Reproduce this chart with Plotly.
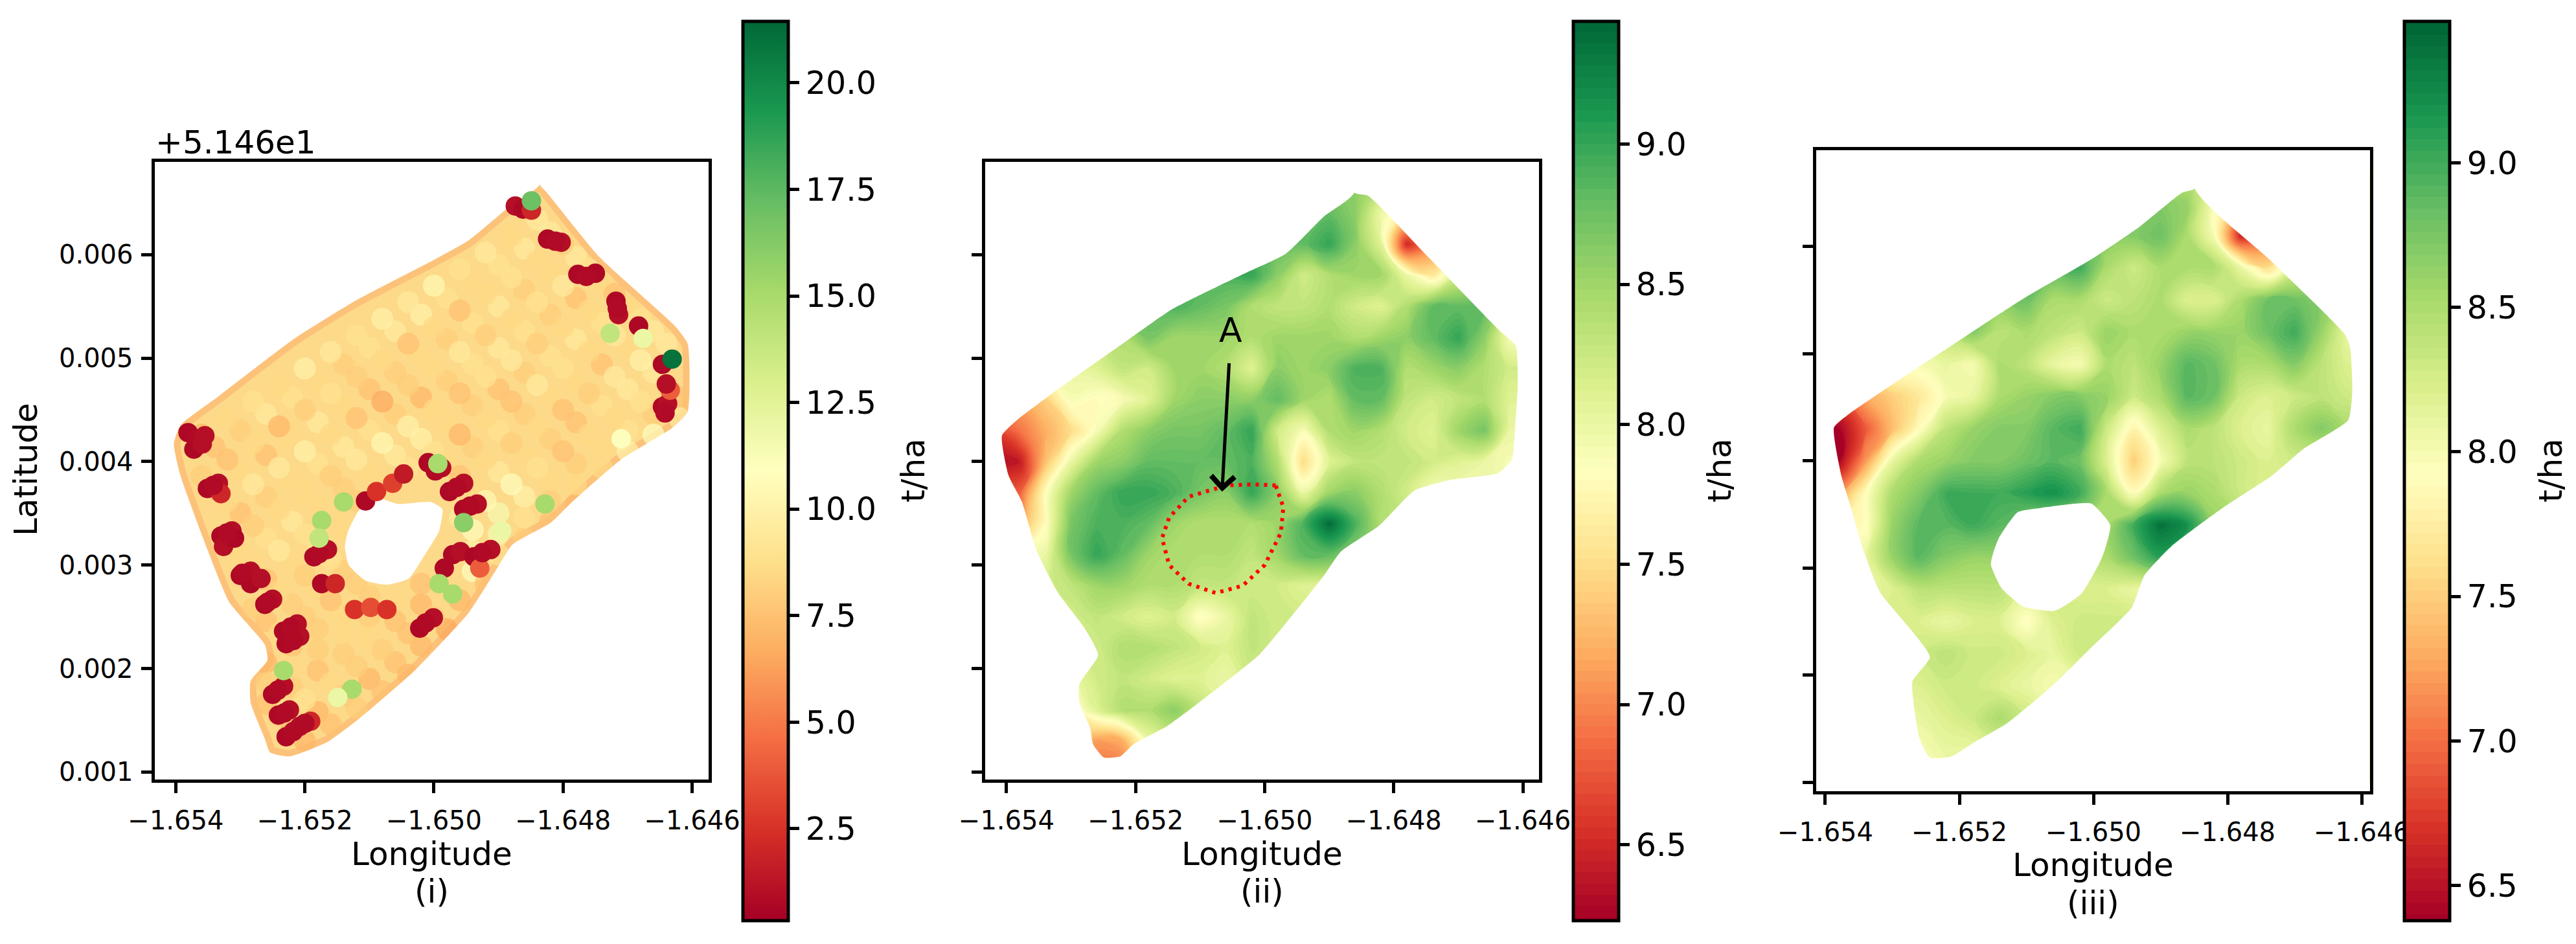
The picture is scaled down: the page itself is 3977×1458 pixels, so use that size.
import plotly.graph_objects as go

W, H = 3977, 1458
_ = None

# grid of the two interpolated maps (latitude is given as offset from 51.46)
grid_lon = [-1.6542, -1.6538, -1.6534, -1.6530, -1.6526, -1.6522, -1.6518, -1.6514, -1.6510, -1.6506, -1.6502,
            -1.6498, -1.6494, -1.6490, -1.6486, -1.6482, -1.6478, -1.6474, -1.6470, -1.6466, -1.6462, -1.6458]
grid_lat = [0.0010, 0.0013, 0.0016, 0.0019, 0.0022, 0.0025, 0.0028, 0.0031, 0.0034, 0.0037,
            0.0040, 0.0043, 0.0046, 0.0049, 0.0052, 0.0055, 0.0058, 0.0061, 0.0064, 0.0067]

yield_ii = [
    [_, _, 7.4, 7.2, 6.9, 6.9, 7.8, 8.1, _, _, _, _, _, _, _, _, _, _, _, _, _, _],
    [_, _, 7.6, 7.4, 7.1, 7.2, 8.0, 8.2, 8.2, 8.2, _, _, _, _, _, _, _, _, _, _, _, _],
    [_, _, 7.7, 7.7, 8.1, 8.4, 8.4, 8.6, 8.3, 8.1, 8.1, _, _, _, _, _, _, _, _, _, _, _],
    [_, _, 8.0, 8.0, 8.2, 8.3, 8.2, 8.1, 8.1, 8.0, 8.2, 8.2, _, _, _, _, _, _, _, _, _, _],
    [_, _, 8.2, 8.2, 8.2, 8.4, 8.4, 8.3, 8.2, 8.1, 8.3, 8.2, 8.2, _, _, _, _, _, _, _, _, _],
    [_, _, 8.2, 8.2, 8.3, 8.2, 8.1, 8.2, 7.8, 8.0, 8.3, 8.2, 8.2, 8.2, _, _, _, _, _, _, _, _],
    [_, 8.2, 8.2, 8.3, 8.5, 8.5, 8.4, 8.4, 8.3, 8.3, 8.2, 8.2, 8.1, 8.1, 8.2, _, _, _, _, _, _, _],
    [7.9, 7.9, 8.0, 8.7, 9.0, 8.8, 8.5, 8.4, 8.4, 8.4, 8.3, 8.5, 8.8, 8.8, 8.6, 8.5, _, _, _, _, _, _],
    [7.2, 7.2, 7.8, 8.7, 8.9, 8.9, 8.8, 8.5, 8.4, 8.4, 8.4, 8.5, 8.9, 9.4, 8.9, 8.4, 8.3, _, _, _, _, _],
    [6.8, 6.8, 7.8, 8.5, 8.8, 9.0, 9.0, 8.9, 8.7, 8.6, 9.0, 8.6, 8.0, 8.5, 8.6, 8.4, 8.2, 7.9, 7.9, _, _, _],
    [6.3, 6.4, 7.3, 8.0, 8.5, 8.6, 8.8, 8.8, 8.8, 8.8, 8.9, 8.4, 7.5, 8.1, 8.3, 8.3, 8.3, 8.2, 8.1, 8.0, 7.9, 7.9],
    [6.6, 6.9, 7.2, 7.5, 7.9, 8.4, 8.6, 8.7, 8.7, 8.8, 9.0, 8.2, 7.9, 8.4, 8.5, 8.4, 8.2, 8.1, 8.5, 8.7, 8.0, 8.0],
    [7.2, 7.2, 7.4, 7.9, 7.8, 7.9, 8.1, 8.5, 8.6, 8.6, 8.6, 8.8, 8.5, 8.4, 8.8, 8.8, 8.3, 8.2, 8.3, 8.4, 8.1, 8.1],
    [_, _, 7.9, 8.0, 8.1, 8.3, 8.2, 8.5, 8.5, 8.4, 8.1, 8.6, 8.5, 8.6, 8.9, 8.9, 8.4, 8.5, 8.6, 8.4, 8.2, 8.2],
    [_, _, _, _, 8.3, 8.4, 8.7, 8.5, 8.5, 8.5, 8.4, 8.5, 8.5, 8.5, 8.4, 8.5, 8.6, 8.8, 9.0, 8.6, 7.9, 7.9],
    [_, _, _, _, _, 8.7, 8.8, 8.9, 8.8, 8.7, 8.4, 8.3, 8.3, 8.4, 8.2, 8.1, 8.4, 8.8, 8.8, 8.8, 8.2, _],
    [_, _, _, _, _, _, _, 8.9, 8.9, 8.9, 9.0, 8.6, 8.2, 8.4, 8.5, 8.5, 8.0, 7.6, 8.2, 8.3, _, _],
    [_, _, _, _, _, _, _, _, _, _, 8.8, 8.8, 8.8, 9.0, 8.6, 8.1, 6.5, 7.0, 7.8, _, _, _],
    [_, _, _, _, _, _, _, _, _, _, _, _, 8.8, 8.8, 8.6, 8.0, 7.6, 7.6, _, _, _, _],
    [_, _, _, _, _, _, _, _, _, _, _, _, _, 8.6, 8.6, 8.4, 8.0, _, _, _, _, _],
]

yield_iii = [
    [_, _, _, 8.0, 8.0, 8.0, 8.1, 8.1, _, _, _, _, _, _, _, _, _, _, _, _, _, _],
    [_, _, _, 8.0, 8.0, 8.1, 8.1, 8.2, 8.2, _, _, _, _, _, _, _, _, _, _, _, _, _],
    [_, _, _, 8.1, 8.1, 8.2, 8.3, 8.5, 8.3, 8.2, _, _, _, _, _, _, _, _, _, _, _, _],
    [_, _, _, 8.2, 8.2, 8.3, 8.3, 8.2, 8.1, 8.0, 8.1, _, _, _, _, _, _, _, _, _, _, _],
    [_, _, 8.3, 8.3, 8.3, 8.4, 8.3, 8.3, 8.2, 8.1, 8.3, 8.3, _, _, _, _, _, _, _, _, _, _],
    [_, _, 8.2, 8.2, 8.2, 8.1, 8.2, 8.2, 7.9, 8.2, 8.3, 8.3, 8.3, _, _, _, _, _, _, _, _, _],
    [_, 8.1, 8.1, 8.2, 8.4, 8.4, 8.4, 8.4, 8.2, 8.3, 8.2, 8.2, 8.1, 8.1, _, _, _, _, _, _, _, _],
    [_, 8.1, 8.1, 8.6, 8.9, 8.7, 8.6, 8.6, 8.5, 8.4, 8.4, 8.5, 8.8, 9.1, 8.8, 8.6, _, _, _, _, _, _],
    [7.8, 7.8, 7.9, 8.6, 8.9, 8.9, 9.0, 8.9, 8.7, 8.6, 8.5, 8.5, 9.0, 9.4, 9.2, 8.6, 8.5, _, _, _, _, _],
    [7.2, 7.2, 7.9, 8.5, 8.7, 9.0, 9.0, 9.0, 9.1, 9.2, 9.0, 8.5, 7.9, 8.5, 8.6, 8.5, 8.3, 8.2, 8.2, _, _, _],
    [6.4, 6.4, 7.2, 8.1, 8.5, 8.6, 8.7, 8.7, 8.8, 8.9, 8.8, 8.2, 7.5, 8.0, 8.4, 8.4, 8.3, 8.2, 8.3, 8.3, _, _],
    [6.4, 6.4, 6.9, 7.4, 7.9, 8.4, 8.6, 8.7, 8.7, 8.9, 9.0, 8.3, 7.8, 8.2, 8.5, 8.4, 8.2, 8.1, 8.5, 8.7, 8.5, 8.5],
    [6.9, 6.9, 7.3, 7.5, 7.7, 8.0, 8.1, 8.5, 8.6, 8.7, 8.7, 8.6, 8.3, 8.5, 8.9, 8.8, 8.3, 8.2, 8.3, 8.4, 8.3, 8.3],
    [_, _, 7.8, 8.0, 8.0, 8.1, 8.0, 8.5, 8.4, 8.1, 8.0, 8.5, 8.4, 8.6, 8.9, 8.8, 8.5, 8.5, 8.7, 8.4, 8.2, 8.2],
    [_, _, _, _, 8.2, 8.4, 8.7, 8.4, 8.5, 8.4, 8.3, 8.6, 8.5, 8.5, 8.6, 8.6, 8.6, 8.8, 9.0, 8.6, 8.1, 8.1],
    [_, _, _, _, _, 8.6, 8.7, 8.7, 8.8, 8.5, 8.5, 8.3, 8.4, 8.5, 8.2, 8.2, 8.5, 8.8, 8.8, 8.7, 8.3, _],
    [_, _, _, _, _, _, _, _, 8.8, 8.9, 9.0, 8.5, 8.3, 8.5, 8.5, 8.5, 8.1, 7.6, 8.2, 8.3, _, _],
    [_, _, _, _, _, _, _, _, _, _, _, 8.7, 8.7, 8.8, 8.5, 8.0, 6.6, 7.0, 7.8, _, _, _],
    [_, _, _, _, _, _, _, _, _, _, _, _, 8.7, 8.7, 8.6, 8.0, 7.6, 7.6, _, _, _, _],
    [_, _, _, _, _, _, _, _, _, _, _, _, _, 8.4, 8.4, 8.3, 8.0, _, _, _, _, _],
]

# field outlines, clockwise from the north tip
edge_i_lon = [-1.64836, -1.64825, -1.64744, -1.64625, -1.64607, -1.64604, -1.64607, -1.64630, -1.64710, -1.64786, -1.64819, -1.64878, -1.64904, -1.64946, -1.65030, -1.65115, -1.65165, -1.65224, -1.65254, -1.65262, -1.65284, -1.65284, -1.65258, -1.65262, -1.65317, -1.65351, -1.65393, -1.65403, -1.65393, -1.65334, -1.65216, -1.65123, -1.64997, -1.64946, -1.64878, -1.64836]
edge_i_lat = [0.00668, 0.00660, 0.00598, 0.00530, 0.00514, 0.00489, 0.00448, 0.00433, 0.00402, 0.00361, 0.00341, 0.00320, 0.00295, 0.00254, 0.00198, 0.00152, 0.00129, 0.00115, 0.00119, 0.00132, 0.00167, 0.00188, 0.00208, 0.00223, 0.00264, 0.00315, 0.00387, 0.00417, 0.00435, 0.00463, 0.00519, 0.00555, 0.00596, 0.00614, 0.00649, 0.00668]
hole_i_lon = [-1.65115, -1.65133, -1.65138, -1.65132, -1.65106, -1.65073, -1.65039, -1.65014, -1.64992, -1.64987, -1.65005, -1.65056, -1.65089, -1.65115]
hole_i_lat = [0.00354, 0.00333, 0.00318, 0.00300, 0.00285, 0.00281, 0.00287, 0.00310, 0.00333, 0.00354, 0.00361, 0.00359, 0.00365, 0.00354]

edge_ii_lon = [-1.64861, -1.64840, -1.64747, -1.64637, -1.64611, -1.64608, -1.64612, -1.64617, -1.64638, -1.64714, -1.64768, -1.64823, -1.64882, -1.64908, -1.64967, -1.65009, -1.65102, -1.65152, -1.65203, -1.65224, -1.65249, -1.65266, -1.65270, -1.65287, -1.65287, -1.65258, -1.65279, -1.65321, -1.65354, -1.65376, -1.65397, -1.65407, -1.65384, -1.65329, -1.65220, -1.65144, -1.65034, -1.64967, -1.64908, -1.64861]
edge_ii_lat = [0.00660, 0.00657, 0.00598, 0.00527, 0.00512, 0.00473, 0.00433, 0.00402, 0.00389, 0.00382, 0.00372, 0.00338, 0.00313, 0.00290, 0.00244, 0.00213, 0.00167, 0.00144, 0.00127, 0.00115, 0.00114, 0.00127, 0.00142, 0.00167, 0.00185, 0.00213, 0.00239, 0.00274, 0.00315, 0.00361, 0.00387, 0.00425, 0.00440, 0.00466, 0.00514, 0.00547, 0.00581, 0.00601, 0.00637, 0.00660]
area_a_lon = [-1.64983, -1.65017, -1.65059, -1.65118, -1.65148, -1.65159, -1.65148, -1.65118, -1.65076, -1.65034, -1.65000, -1.64975, -1.64971, -1.64983]
area_a_lat = [0.00377, 0.00378, 0.00377, 0.00366, 0.00346, 0.00326, 0.00300, 0.00282, 0.00273, 0.00280, 0.00300, 0.00331, 0.00356, 0.00377]

edge_iii_lon = [-1.64849, -1.64738, -1.64624, -1.64617, -1.64614, -1.64620, -1.64687, -1.64734, -1.64805, -1.64884, -1.64924, -1.64943, -1.65003, -1.65058, -1.65129, -1.65176, -1.65212, -1.65244, -1.65259, -1.65270, -1.65244, -1.65319, -1.65346, -1.65362, -1.65376, -1.65387, -1.65366, -1.65279, -1.65208, -1.65105, -1.65003, -1.64932, -1.64868, -1.64849]
edge_iii_lat = [0.00654, 0.00588, 0.00517, 0.00505, 0.00465, 0.00438, 0.00411, 0.00386, 0.00357, 0.00320, 0.00293, 0.00263, 0.00226, 0.00192, 0.00155, 0.00138, 0.00124, 0.00123, 0.00140, 0.00194, 0.00217, 0.00278, 0.00322, 0.00357, 0.00386, 0.00431, 0.00443, 0.00480, 0.00509, 0.00551, 0.00588, 0.00618, 0.00650, 0.00654]
hole_iii_lon = [-1.65149, -1.65153, -1.65137, -1.65105, -1.65058, -1.65018, -1.64987, -1.64975, -1.65003, -1.65026, -1.65078, -1.65113, -1.65141, -1.65149]
hole_iii_lat = [0.00315, 0.00303, 0.00281, 0.00264, 0.00260, 0.00276, 0.00310, 0.00340, 0.00360, 0.00360, 0.00356, 0.00352, 0.00328, 0.00315]

# raw yield monitor passes, panel (i): in-between passes first
pass2_lon = [-1.6534, -1.6530, -1.6526, -1.6522, -1.6518, -1.6514, -1.6510, -1.6506, -1.6502, -1.6498, -1.6494, -1.6490, -1.6486, -1.6482,
             -1.6534, -1.6530, -1.6526, -1.6522, -1.6518, -1.6514, -1.6510, -1.6506, -1.6502, -1.6498, -1.6494, -1.6490, -1.6486, -1.6482, -1.6478,
             -1.6530, -1.6526, -1.6522, -1.6518, -1.6514, -1.6510, -1.6506, -1.6502, -1.6498, -1.6494, -1.6490, -1.6486, -1.6482, -1.6478, -1.6474,
             -1.6530, -1.6526, -1.6522, -1.6518, -1.6514, -1.6510, -1.6506, -1.6502, -1.6498, -1.6494, -1.6490, -1.6486, -1.6482, -1.6478, -1.6474, -1.6470,
             -1.6526, -1.6522, -1.6518, -1.6514, -1.6498, -1.6494, -1.6490, -1.6486, -1.6482, -1.6478, -1.6474, -1.6470, -1.6466,
             -1.6526, -1.6522, -1.6518, -1.6514, -1.6494, -1.6490, -1.6486, -1.6482, -1.6478, -1.6474, -1.6470, -1.6466,
             -1.6526, -1.6522, -1.6518, -1.6514, -1.6510, -1.6494, -1.6490, -1.6486, -1.6482, -1.6478, -1.6474, -1.6470, -1.6466, -1.6462,
             -1.6526, -1.6522, -1.6518, -1.6514, -1.6510, -1.6506, -1.6502, -1.6498, -1.6494, -1.6490, -1.6486, -1.6482, -1.6478,
             -1.6522, -1.6518, -1.6514, -1.6510, -1.6506, -1.6502, -1.6498]
pass2_lat = [0.00414, 0.00430, 0.00446, 0.00462, 0.00478, 0.00494, 0.00510, 0.00526, 0.00542, 0.00558, 0.00574, 0.00590, 0.00606, 0.00622,
             0.00374, 0.00390, 0.00406, 0.00422, 0.00438, 0.00454, 0.00470, 0.00486, 0.00502, 0.00518, 0.00534, 0.00550, 0.00566, 0.00582, 0.00598,
             0.00350, 0.00366, 0.00382, 0.00398, 0.00414, 0.00430, 0.00446, 0.00462, 0.00478, 0.00494, 0.00510, 0.00526, 0.00542, 0.00558, 0.00574,
             0.00310, 0.00326, 0.00342, 0.00358, 0.00374, 0.00390, 0.00406, 0.00422, 0.00438, 0.00454, 0.00470, 0.00486, 0.00502, 0.00518, 0.00534, 0.00550,
             0.00286, 0.00302, 0.00318, 0.00334, 0.00398, 0.00414, 0.00430, 0.00446, 0.00462, 0.00478, 0.00494, 0.00510, 0.00526,
             0.00246, 0.00262, 0.00278, 0.00294, 0.00374, 0.00390, 0.00406, 0.00422, 0.00438, 0.00454, 0.00470, 0.00486,
             0.00206, 0.00222, 0.00238, 0.00254, 0.00270, 0.00334, 0.00350, 0.00366, 0.00382, 0.00398, 0.00414, 0.00430, 0.00446, 0.00462,
             0.00166, 0.00182, 0.00198, 0.00214, 0.00230, 0.00246, 0.00262, 0.00278, 0.00294, 0.00310, 0.00326, 0.00342, 0.00358,
             0.00142, 0.00158, 0.00174, 0.00190, 0.00206, 0.00222, 0.00238]
pass2_val = [7.5, 8.0, 9.5, 9.0, 8.5, 8.0, 9.0, 9.5, 10.0, 9.0, 8.5, 9.0, 9.5, 9.5,
             7.0, 8.5, 7.5, 8.5, 9.5, 8.5, 7.5, 8.0, 8.5, 8.0, 9.0, 9.5, 8.0, 8.5, 9.5,
             7.5, 8.0, 8.5, 9.0, 9.5, 9.0, 8.0, 7.0, 8.0, 9.0, 9.5, 9.0, 8.0, 7.5, 8.5,
             8.5, 9.0, 9.5, 8.5, 8.0, 8.5, 9.5, 10.0, 8.5, 8.0, 7.5, 8.0, 9.0, 9.5, 9.0, 8.5,
             7.5, 8.5, 9.0, 8.5, 8.5, 8.0, 9.0, 8.0, 8.5, 8.5, 7.5, 8.5, 9.5,
             7.5, 8.0, 8.5, 8.0, 8.5, 9.5, 8.5, 8.0, 7.5, 9.0, 9.5, 9.5,
             7.0, 7.5, 8.0, 8.5, 8.0, 11.0, 11.5, 10.0, 8.5, 8.0, 8.5, 9.0, 8.0, 7.5,
             7.5, 8.0, 7.5, 8.0, 8.5, 7.5, 7.0, 8.5, 11.0, 9.0, 8.0, 7.5, 7.0,
             6.5, 7.0, 7.5, 7.0, 7.5, 7.0, 6.5]

pass_lon = [-1.6536, -1.6532, -1.6528, -1.6524, -1.6520, -1.6516, -1.6512, -1.6508, -1.6504, -1.6500, -1.6496, -1.6492, -1.6488, -1.6484,
            -1.6536, -1.6532, -1.6528, -1.6524, -1.6520, -1.6516, -1.6512, -1.6508, -1.6504, -1.6500, -1.6496, -1.6492, -1.6488, -1.6484, -1.6480,
            -1.6532, -1.6528, -1.6524, -1.6520, -1.6516, -1.6512, -1.6508, -1.6504, -1.6500, -1.6496, -1.6492, -1.6488, -1.6484, -1.6480, -1.6476,
            -1.6532, -1.6528, -1.6524, -1.6520, -1.6516, -1.6512, -1.6508, -1.6504, -1.6500, -1.6496, -1.6492, -1.6488, -1.6484, -1.6480, -1.6476, -1.6472,
            -1.6528, -1.6524, -1.6520, -1.6516, -1.6512, -1.6508, -1.6504, -1.6500, -1.6496, -1.6492, -1.6488, -1.6484, -1.6480, -1.6476, -1.6472, -1.6468,
            -1.6528, -1.6524, -1.6520, -1.6516, -1.6496, -1.6492, -1.6488, -1.6484, -1.6480, -1.6476, -1.6472, -1.6468, -1.6464,
            -1.6524, -1.6520, -1.6516, -1.6512, -1.6496, -1.6492, -1.6488, -1.6484, -1.6480, -1.6476, -1.6472, -1.6468, -1.6464,
            -1.6526, -1.6522, -1.6518, -1.6514, -1.6510, -1.6506, -1.6502, -1.6498, -1.6494, -1.6490, -1.6486, -1.6482, -1.6478, -1.6474, -1.6470, -1.6466, -1.6462,
            -1.6524, -1.6520, -1.6516, -1.6512, -1.6508, -1.6504, -1.6500, -1.6496, -1.6492,
            -1.6520, -1.6516, -1.6512, -1.6508, -1.6504]
pass_lat = [0.00426, 0.00442, 0.00458, 0.00474, 0.00490, 0.00506, 0.00522, 0.00538, 0.00554, 0.00570, 0.00586, 0.00602, 0.00618, 0.00634,
            0.00386, 0.00402, 0.00418, 0.00434, 0.00450, 0.00466, 0.00482, 0.00498, 0.00514, 0.00530, 0.00546, 0.00562, 0.00578, 0.00594, 0.00610,
            0.00362, 0.00378, 0.00394, 0.00410, 0.00426, 0.00442, 0.00458, 0.00474, 0.00490, 0.00506, 0.00522, 0.00538, 0.00554, 0.00570, 0.00586,
            0.00322, 0.00338, 0.00354, 0.00370, 0.00386, 0.00402, 0.00418, 0.00434, 0.00450, 0.00466, 0.00482, 0.00498, 0.00514, 0.00530, 0.00546, 0.00562,
            0.00298, 0.00314, 0.00330, 0.00346, 0.00362, 0.00378, 0.00394, 0.00410, 0.00426, 0.00442, 0.00458, 0.00474, 0.00490, 0.00506, 0.00522, 0.00538,
            0.00258, 0.00274, 0.00290, 0.00306, 0.00386, 0.00402, 0.00418, 0.00434, 0.00450, 0.00466, 0.00482, 0.00498, 0.00514,
            0.00234, 0.00250, 0.00266, 0.00282, 0.00346, 0.00362, 0.00378, 0.00394, 0.00410, 0.00426, 0.00442, 0.00458, 0.00474,
            0.00186, 0.00202, 0.00218, 0.00234, 0.00250, 0.00266, 0.00282, 0.00298, 0.00314, 0.00330, 0.00346, 0.00362, 0.00378, 0.00394, 0.00410, 0.00426, 0.00442,
            0.00154, 0.00170, 0.00186, 0.00202, 0.00218, 0.00234, 0.00250, 0.00266, 0.00282,
            0.00130, 0.00146, 0.00162, 0.00178, 0.00194]
pass_val = [7.0, 8.5, 9.0, 8.5, 10.0, 9.5, 9.0, 10.0, 9.5, 10.5, 9.0, 9.5, 8.5, 9.5,
            8.0, 7.5, 8.5, 7.0, 8.0, 9.0, 8.0, 8.5, 7.5, 8.5, 7.5, 8.5, 9.0, 8.5, 8.0,
            8.5, 9.5, 9.5, 10.0, 8.5, 7.5, 6.5, 8.0, 8.5, 9.5, 8.0, 8.5, 9.0, 9.5, 9.0,
            9.0, 8.0, 8.5, 8.5, 8.0, 9.5, 10.5, 10.0, 8.5, 7.5, 9.0, 9.5, 8.0, 8.5, 8.5, 7.5,
            8.5, 9.5, 9.0, 8.5, 8.0, 8.5, 9.0, 9.0, 7.0, 8.5, 7.5, 9.5, 9.0, 8.5, 9.5, 9.0,
            8.0, 8.5, 8.0, 9.0, 7.5, 8.5, 8.0, 8.5, 7.5, 8.0, 9.5, 10.0, 9.5,
            8.5, 8.0, 7.5, 8.0, 9.5, 10.5, 11.0, 9.0, 7.5, 8.5, 8.5, 9.0, 8.5,
            8.0, 8.5, 8.0, 8.5, 8.0, 8.5, 7.5, 8.5, 10.0, 11.5, 9.0, 8.0, 8.5, 8.5, 10.0, 11.0, 9.5,
            8.0, 9.0, 8.5, 8.0, 8.0, 7.5, 8.0, 7.0, 7.5,
            7.0, 7.5, 8.0, 7.5, 7.0]

# low and high readings at the pass ends
spot_lon = [-1.65381, -1.65368, -1.65355, -1.65372, -1.65359, -1.65351, -1.65334, -1.65330, -1.65330, -1.65313, -1.65326, -1.65309,
            -1.65300, -1.65284, -1.65284, -1.65268, -1.65262, -1.65250, -1.65233, -1.65212, -1.65229, -1.65208, -1.65250, -1.65233,
            -1.65241, -1.65224, -1.65229, -1.65208, -1.65191, -1.65186, -1.65165, -1.65174, -1.65153, -1.65106, -1.65089, -1.65064,
            -1.65047, -1.65009, -1.64988, -1.64976, -1.64954, -1.64954, -1.64933, -1.64984, -1.64971, -1.64959, -1.64938, -1.64912,
            -1.64929, -1.65022, -1.65001, -1.65123, -1.65098, -1.65073, -1.64874, -1.64862, -1.64849, -1.64824, -1.64803, -1.64777,
            -1.64750, -1.64718, -1.64714, -1.64683, -1.64646, -1.64646, -1.64638, -1.64634,
            -1.65342, -1.65321, -1.65297, -1.65258, -1.65222, -1.65218, -1.65242, -1.65232, -1.65218, -1.65200, -1.65178, -1.64998, -1.64965, -1.64944, -1.64925,
            -1.65013, -1.64812, -1.64764, -1.64716, -1.64640, -1.64642,
            -1.64631, -1.64849, -1.65140, -1.65174, -1.65178, -1.64992, -1.64971, -1.65127, -1.65149, -1.65233, -1.64676, -1.64727,
            -1.64828, -1.64954, -1.64994, -1.64710, -1.64895]
spot_lat = [0.00428, 0.00422, 0.00425, 0.00412, 0.00417, 0.00374, 0.00379, 0.00369, 0.00328, 0.00333, 0.00318, 0.00326,
            0.00290, 0.00294, 0.00282, 0.00287, 0.00262, 0.00267, 0.00236, 0.00243, 0.00224, 0.00231, 0.00175, 0.00183,
            0.00155, 0.00160, 0.00134, 0.00144, 0.00149, 0.00308, 0.00315, 0.00282, 0.00282, 0.00362, 0.00371, 0.00379,
            0.00388, 0.00399, 0.00394, 0.00371, 0.00379, 0.00354, 0.00359, 0.00297, 0.00310, 0.00313, 0.00308, 0.00315,
            0.00297, 0.00239, 0.00249, 0.00257, 0.00259, 0.00257, 0.00647, 0.00644, 0.00643, 0.00615, 0.00612, 0.00581,
            0.00582, 0.00555, 0.00542, 0.00531, 0.00494, 0.00453, 0.00456, 0.00469,
            0.00377, 0.00331, 0.00292, 0.00264, 0.00240, 0.00227, 0.00179, 0.00157, 0.00139, 0.00147, 0.00311, 0.00391, 0.00375, 0.00357, 0.00312,
            0.00244, 0.00613, 0.00579, 0.00548, 0.00475, 0.00447,
            0.00499, 0.00652, 0.00361, 0.00343, 0.00326, 0.00282, 0.00272, 0.00180, 0.00172, 0.00198, 0.00519, 0.00524,
            0.00359, 0.00341, 0.00398, 0.00422, 0.00333]
spot_val = [0.7, 0.8, 1.0, 0.7, 1.0, 0.7, 1.0, 2.0, 0.7, 1.0, 1.0, 0.7,
            0.7, 1.0, 0.7, 1.0, 0.7, 1.0, 0.7, 1.0, 0.7, 1.0, 0.7, 1.0,
            0.7, 1.0, 0.7, 1.0, 2.0, 0.7, 1.0, 0.7, 2.0, 0.7, 2.5, 3.0,
            1.5, 0.7, 1.0, 0.7, 1.0, 0.7, 1.0, 0.7, 0.7, 1.0, 0.7, 1.0,
            4.0, 0.7, 1.0, 2.5, 3.5, 2.5, 1.0, 0.7, 2.0, 0.7, 1.0, 0.7,
            0.7, 0.7, 1.0, 0.7, 0.7, 0.7, 1.0, 4.0,
            0.8, 0.8, 0.8, 0.8, 0.8, 0.8, 0.8, 0.8, 0.8, 0.8, 0.8, 0.8, 0.8, 0.8, 0.8,
            0.8, 0.8, 0.8, 0.8, 1.0, 0.8,
            21.0, 17.0, 15.0, 15.0, 14.0, 15.0, 15.0, 15.0, 12.0, 15.0, 12.0, 14.0,
            15.0, 16.0, 15.0, 11.0, 12.0]

lon_ticks = [-1.654, -1.652, -1.650, -1.648, -1.646]
lat_ticks = [0.001, 0.002, 0.003, 0.004, 0.005, 0.006]
lat_tick_labels = ["0.001", "0.002", "0.003", "0.004", "0.005", "0.006"]
bar_ticks_i = [2.5, 5.0, 7.5, 10.0, 12.5, 15.0, 17.5, 20.0]
bar_ticks_ii = [6.5, 7.0, 7.5, 8.0, 8.5, 9.0]

LON_RANGE = [-1.65433, -1.64575]
LAT_RANGE = [0.00093, 0.0069]
LON_RANGE_III = [-1.65414, -1.64588]
LAT_RANGE_III = [0.00092, 0.0069]
FONT = "DejaVu Sans"
BLACK = "#000000"
CURVE = dict(shape="spline", smoothing=0.5, width=0)


# the page adds 8px of body margin on the top and left
def px_x(p):
    return (p - 8) / W


def px_y(p):
    return 1 - (p - 8) / H


def colorbar(left):
    return dict(x=px_x(left), xanchor="left", xpad=0, y=px_y(1421.5), yanchor="bottom", ypad=0,
                len=(1421.5 - 32.5) / H, lenmode="fraction", thickness=70, thicknessmode="pixels",
                outlinewidth=5, outlinecolor=BLACK, ticks="outside", ticklen=15, tickwidth=5, tickcolor=BLACK,
                tickfont=dict(family=FONT, size=49, color=BLACK), tickformat=".1f", tickprefix="\u00a0")


def mask(edge_lon, edge_lat, xaxis, yaxis):
    # white sheet over the frame with the field cut out of it
    x0, x1 = -1.656, -1.644
    y0, y1 = 0.0, 0.008
    xs = [x0, x0, x1, x1, edge_lon[0]] + edge_lon + [edge_lon[0], x0]
    ys = [y1, y0, y0, y1, y1] + edge_lat + [y1, y1]
    return go.Scatter(x=xs, y=ys, mode="lines", fill="toself", fillcolor="white", line=CURVE,
                      xaxis=xaxis, yaxis=yaxis, hoverinfo="skip", showlegend=False)


def hole(lon, lat, xaxis, yaxis):
    return go.Scatter(x=lon, y=lat, mode="lines", fill="toself", fillcolor="white", line=CURVE,
                      xaxis=xaxis, yaxis=yaxis, hoverinfo="skip", showlegend=False)


def surface(z, zmin, zmax, left, xaxis, yaxis):
    return go.Contour(x=grid_lon, y=grid_lat, z=z, connectgaps=True, colorscale="RdYlGn", zmin=zmin, zmax=zmax,
                      contours=dict(coloring="fill", start=6.0, end=9.6, size=0.04, showlines=False),
                      line=dict(width=0, smoothing=1.3), xaxis=xaxis, yaxis=yaxis,
                      colorbar=dict(colorbar(left), tickvals=bar_ticks_ii))


def label(text, x, y, size=50, angle=0):
    return dict(text=text, xref="paper", yref="paper", x=px_x(x), y=px_y(y), xanchor="center", yanchor="middle",
                showarrow=False, textangle=angle, font=dict(family=FONT, size=size, color=BLACK))


fig = go.Figure()

# panel (i)
fig.add_trace(go.Scatter(x=edge_i_lon, y=edge_i_lat, mode="lines", fill="toself", fillcolor="#fdd98a",
                         line=dict(color="#fcc27a", width=20, shape="spline", smoothing=0.5), xaxis="x", yaxis="y", showlegend=False))
fig.add_trace(go.Scatter(x=pass2_lon, y=pass2_lat, mode="markers", xaxis="x", yaxis="y", showlegend=False,
                         marker=dict(size=34, color=pass2_val, colorscale="RdYlGn", cmin=0.35, cmax=21.45, opacity=0.7, line=dict(width=0))))
fig.add_trace(go.Scatter(x=pass_lon, y=pass_lat, mode="markers", xaxis="x", yaxis="y", showlegend=False,
                         marker=dict(size=34, color=pass_val, colorscale="RdYlGn", cmin=0.35, cmax=21.45, opacity=0.7, line=dict(width=0))))
fig.add_trace(mask(edge_i_lon, edge_i_lat, "x", "y"))
fig.add_trace(hole(hole_i_lon, hole_i_lat, "x", "y"))
fig.add_trace(go.Scatter(x=spot_lon, y=spot_lat, mode="markers", xaxis="x", yaxis="y", showlegend=False,
                         marker=dict(size=30, color=spot_val, colorscale="RdYlGn", cmin=0.35, cmax=21.45, line=dict(width=0),
                                     colorbar=dict(colorbar(1146.5), tickvals=bar_ticks_i))))

# panel (ii)
fig.add_trace(surface(yield_ii, 6.23, 9.44, 2429, "x2", "y2"))
fig.add_trace(mask(edge_ii_lon, edge_ii_lat, "x2", "y2"))
fig.add_trace(go.Scatter(x=area_a_lon, y=area_a_lat, mode="lines", line=dict(color="#ff0000", width=6, dash="5px,8px"),
                         xaxis="x2", yaxis="y2", showlegend=False))

# panel (iii)
fig.add_trace(surface(yield_iii, 6.38, 9.49, 3711.5, "x3", "y3"))
fig.add_trace(mask(edge_iii_lon, edge_iii_lat, "x3", "y3"))
fig.add_trace(hole(hole_iii_lon, hole_iii_lat, "x3", "y3"))


def x_axis(left, right, anchor, lon_range):
    return dict(domain=[px_x(left), px_x(right)], range=lon_range, anchor=anchor, tickvals=lon_ticks, automargin=False,
                tickformat=".3f", ticks="outside", ticklen=16, tickwidth=5, tickcolor=BLACK, ticklabelstandoff=8,
                tickfont=dict(family=FONT, size=40, color=BLACK), showgrid=False, zeroline=False,
                showline=True, linewidth=5, linecolor=BLACK, mirror=True)


def y_axis(top, bottom, anchor, lat_range, labels):
    return dict(domain=[px_y(bottom), px_y(top)], range=lat_range, anchor=anchor, tickvals=lat_ticks, automargin=False,
                ticktext=lat_tick_labels, showticklabels=labels, ticks="outside", ticklen=16, tickwidth=5, tickcolor=BLACK,
                ticklabelstandoff=4, tickfont=dict(family=FONT, size=40, color=BLACK), showgrid=False, zeroline=False,
                showline=True, linewidth=5, linecolor=BLACK, mirror=True)


fig.update_layout(
    width=W, height=H, margin=dict(l=0, r=0, t=0, b=0, autoexpand=False), paper_bgcolor="white", plot_bgcolor="white",
    font=dict(family=FONT, color=BLACK),
    xaxis=x_axis(238.5, 1093.5, "y", LON_RANGE), yaxis=y_axis(249.5, 1203.5, "x", LAT_RANGE, True),
    xaxis2=x_axis(1521, 2376, "y2", LON_RANGE), yaxis2=y_axis(249.5, 1203.5, "x2", LAT_RANGE, False),
    xaxis3=x_axis(2803.5, 3658.5, "y3", LON_RANGE_III), yaxis3=y_axis(231.5, 1221.5, "x3", LAT_RANGE_III, False),
    annotations=[
        label("Longitude", 666, 1319), label("(i)", 666, 1377),
        label("Longitude", 1948, 1319), label("(ii)", 1948, 1377),
        label("Longitude", 3231, 1336), label("(iii)", 3231, 1395),
        label("Latitude", 40, 725, angle=-90),
        label("t/ha", 1410, 727, angle=-90), label("t/ha", 2655, 727, angle=-90), label("t/ha", 3938, 727, angle=-90),
        dict(text="+5.146e1", xref="paper", yref="paper", x=px_x(238), y=px_y(251), xanchor="left", yanchor="bottom",
             showarrow=False, font=dict(family=FONT, size=50, color=BLACK)),
        dict(text="A", xref="x2", yref="y2", x=-1.65053, y=0.00527, showarrow=False,
             font=dict(family=FONT, size=52, color=BLACK)),
        dict(text="", xref="x2", yref="y2", x=-1.65066, y=0.00371, axref="x2", ayref="y2", ax=-1.65055, ay=0.00496,
             showarrow=True, arrowhead=4, arrowsize=1.4, arrowwidth=5, arrowcolor=BLACK),
    ],
)

fig.write_html("out.html")
